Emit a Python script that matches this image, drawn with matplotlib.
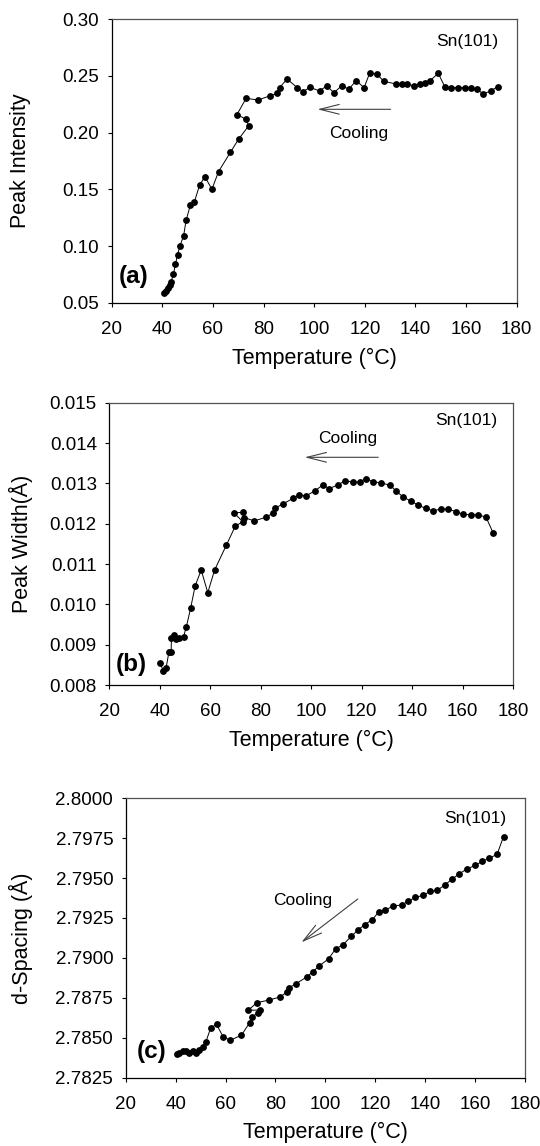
import matplotlib
matplotlib.use('Agg')
import matplotlib.pyplot as plt
from matplotlib.ticker import FormatStrFormatter

plt.rcParams['font.family'] = ['Liberation Sans', 'DejaVu Sans']

# ---------------- data ----------------
temp_a = [40.8, 41.5, 42.2, 43.1, 43.5, 44.4, 45.2, 46.0, 47.0, 48.4, 49.4, 51.1, 52.7,
          54.7, 56.8, 59.6, 62.2, 66.9, 70.1, 74.1, 73.1, 69.5, 73.1, 77.8, 82.4, 85.3,
          86.3, 89.3, 93.3, 95.6, 98.3, 102.1, 104.9, 107.8, 110.8, 113.7, 116.6, 119.7,
          121.9, 124.7, 127.5, 132.2, 134.5, 136.8, 139.4, 141.8, 143.8, 145.8, 149.0,
          151.7, 154.2, 156.9, 159.5, 161.9, 164.3, 166.8, 169.8, 172.5]
intensity_a = [0.0584, 0.0604, 0.0627, 0.0654, 0.0686, 0.0754, 0.0839, 0.0924, 0.1004,
               0.1089, 0.1227, 0.1362, 0.1392, 0.1536, 0.1612, 0.1501, 0.1656, 0.1827,
               0.1942, 0.2060, 0.2118, 0.2160, 0.2303, 0.2288, 0.2324, 0.2347, 0.2397,
               0.2473, 0.2397, 0.2362, 0.2400, 0.2368, 0.2412, 0.2353, 0.2412, 0.2385,
               0.2459, 0.2397, 0.2524, 0.2518, 0.2453, 0.2430, 0.2430, 0.2427, 0.2414,
               0.2427, 0.2441, 0.2459, 0.2524, 0.2400, 0.2397, 0.2397, 0.2397, 0.2391,
               0.2383, 0.2341, 0.2370, 0.2406]

temp_b = [40.1, 41.4, 42.5, 43.6, 44.5, 44.6, 45.5, 46.5, 47.8, 49.4, 50.5, 52.2, 54.0,
          56.4, 59.0, 61.7, 66.3, 69.9, 72.9, 69.3, 72.8, 73.4, 77.4, 82.1, 84.8, 85.5,
          88.8, 92.8, 95.3, 97.9, 101.6, 104.5, 107.1, 110.5, 113.5, 116.5, 119.2, 121.5,
          124.5, 127.8, 131.3, 133.4, 136.2, 139.4, 142.4, 145.3, 148.1, 151.2, 154.3,
          157.3, 160.2, 163.1, 166.1, 169.2, 172.1]
width_b = [0.00855, 0.00835, 0.00843, 0.00881, 0.00883, 0.00916, 0.00924, 0.00913,
           0.00917, 0.00920, 0.00944, 0.00990, 0.01046, 0.01085, 0.01029, 0.01085,
           0.01146, 0.01194, 0.01205, 0.01227, 0.01228, 0.01215, 0.01207, 0.01216,
           0.01226, 0.01238, 0.01249, 0.01263, 0.01271, 0.01269, 0.01282, 0.01296,
           0.01287, 0.01296, 0.01307, 0.01303, 0.01303, 0.01312, 0.01304, 0.01301,
           0.01295, 0.01282, 0.01267, 0.01256, 0.01246, 0.01238, 0.01232, 0.01236,
           0.01236, 0.01230, 0.01223, 0.01222, 0.01222, 0.01216, 0.01176]

temp_c = [40.4, 41.4, 42.8, 44.1, 45.5, 46.8, 48.1, 49.5, 50.8, 52.1, 54.1, 56.4, 59.0,
          61.9, 66.4, 69.7, 70.6, 73.0, 73.7, 69.0, 72.6, 77.3, 81.7, 84.8, 85.4, 88.4,
          92.6, 95.0, 97.4, 101.3, 104.1, 107.0, 110.4, 113.0, 115.7, 118.8, 121.3,
          124.0, 127.0, 130.8, 133.0, 136.1, 139.0, 142.0, 144.8, 148.0, 150.8, 153.7,
          156.8, 160.0, 162.8, 165.7, 168.8, 171.4]
dspacing_c = [2.78396, 2.78406, 2.78416, 2.78416, 2.78402, 2.78414, 2.78402, 2.78423,
              2.78441, 2.78473, 2.78562, 2.78583, 2.78506, 2.78483, 2.78516, 2.78594,
              2.78629, 2.78656, 2.78673, 2.78671, 2.78719, 2.78735, 2.78754, 2.78787,
              2.78812, 2.78839, 2.78881, 2.78913, 2.78948, 2.78994, 2.79056, 2.79081,
              2.79135, 2.79173, 2.79208, 2.79239, 2.79286, 2.79300, 2.79323, 2.79333,
              2.79354, 2.79379, 2.79391, 2.79416, 2.79423, 2.79458, 2.79494, 2.79527,
              2.79558, 2.79579, 2.79604, 2.79625, 2.79648, 2.79760]

x_ticks = [20, 40, 60, 80, 100, 120, 140, 160, 180]
yticks_a = [0.05, 0.10, 0.15, 0.20, 0.25, 0.30]
yticks_b = [0.008, 0.009, 0.010, 0.011, 0.012, 0.013, 0.014, 0.015]
yticks_c = [2.7825, 2.7850, 2.7875, 2.7900, 2.7925, 2.7950, 2.7975, 2.8000]

x_label = 'Temperature (°C)'
y_labels = ['Peak Intensity', 'Peak Width(Å)', 'd-Spacing (Å)']
panel_tags = ['(a)', '(b)', '(c)']
series_label = 'Sn(101)'
arrow_text = 'Cooling'

# ---------------- figure ----------------
W, H = 540, 1146
fig = plt.figure(figsize=(W / 100, H / 100), dpi=100)


def add_axes(l, r, t, b):
    return fig.add_axes([l / W, 1 - b / H, (r - l) / W, (b - t) / H])


ax_a = add_axes(111.7, 516.7, 19.3, 302.7)
ax_b = add_axes(109.3, 513.3, 402.7, 685.0)
ax_c = add_axes(125.7, 525.0, 798.3, 1077.5)

panels = [
    (ax_a, temp_a, intensity_a, yticks_a, '%.2f'),
    (ax_b, temp_b, width_b, yticks_b, '%.3f'),
    (ax_c, temp_c, dspacing_c, yticks_c, '%.4f'),
]

for i, (ax, xs, ys, yt, fmt) in enumerate(panels):
    ax.plot(xs, ys, '-o', color='black', lw=0.7, ms=3.9, mfc='black', mec='black')
    ax.set_xlim(20, 180)
    ax.set_ylim(yt[0], yt[-1])
    ax.set_xticks(x_ticks)
    ax.set_yticks(yt)
    ax.yaxis.set_major_formatter(FormatStrFormatter(fmt))
    ax.tick_params(axis='both', direction='out', length=3, width=0.8,
                   labelsize=13.5, top=False, right=False)
    ax.tick_params(axis='x', pad=10)
    ax.tick_params(axis='y', pad=6)
    for s in ['left', 'bottom']:
        ax.spines[s].set_color('black')
        ax.spines[s].set_linewidth(0.9)
    for s in ['top', 'right']:
        ax.spines[s].set_color('#505050')
        ax.spines[s].set_linewidth(0.9)
    ax.set_xlabel(x_label, fontsize=15.5, labelpad=7)
    pos = ax.get_position()
    fig.text(21 / W, pos.y0 + pos.height / 2, y_labels[i], rotation=90,
             ha='center', va='center', fontsize=15.5)

arrow_kw = dict(arrowstyle='->,head_length=1.4,head_width=0.35', color='#404040',
                lw=0.8, shrinkA=0, shrinkB=0, mutation_scale=10)

# panel (a)
ax_a.annotate('', xy=(101.3, 0.2206), xytext=(130.2, 0.2206), arrowprops=arrow_kw)
ax_a.text(117.5, 0.1995, arrow_text, ha='center', va='center', fontsize=12.5)
ax_a.text(160.3, 0.280, series_label, ha='center', va='center', fontsize=12.5)
ax_a.text(28.6, 0.0727, panel_tags[0], ha='center', va='center', fontsize=17.5,
          fontweight='bold')

# panel (b)
ax_b.annotate('', xy=(97.4, 0.013646), xytext=(126.5, 0.013646), arrowprops=arrow_kw)
ax_b.text(114.5, 0.014117, arrow_text, ha='center', va='center', fontsize=12.5)
ax_b.text(161.3, 0.01457, series_label, ha='center', va='center', fontsize=12.5)
ax_b.text(28.9, 0.00852, panel_tags[1], ha='center', va='center', fontsize=17.5,
          fontweight='bold')

# panel (c)
ax_c.annotate('', xy=(90.4, 2.79097), xytext=(113.0, 2.79369), arrowprops=arrow_kw)
ax_c.text(90.9, 2.7936, arrow_text, ha='center', va='center', fontsize=12.5)
ax_c.text(160.1, 2.79875, series_label, ha='center', va='center', fontsize=12.5)
ax_c.text(30.4, 2.78413, panel_tags[2], ha='center', va='center', fontsize=17.5,
          fontweight='bold')

fig.savefig('out.png', dpi=100)
